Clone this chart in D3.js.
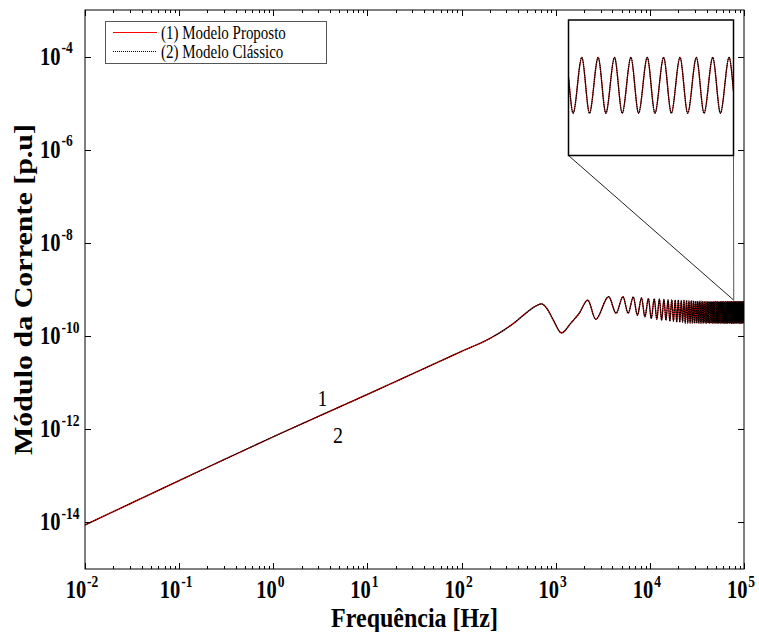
<!DOCTYPE html>
<html><head><meta charset="utf-8">
<script src="https://cdn.jsdelivr.net/npm/d3@7"></script>
<style>body{margin:0;background:#fff}</style>
</head><body><svg id="c" width="759" height="632"></svg>
<script>
// ---- data ----
const baseFreq = [0.01, 0.1, 1, 10, 100, 200, 355, 500, 600, 708, 800, 944, 1150, 1450, 1780];
const baseMag  = [8.8e-15, 7.9e-14, 6.9e-13, 5.6e-12, 4.7e-11, 8.9e-11, 1.86e-10, 3.3e-10, 4.3e-10, 4.9e-10, 4.0e-10, 2.2e-10, 1.17e-10, 1.9e-10, 3.1e-10];
const peakFreq = [2190, 3650, 5180, 6670, 8160, 9650, 11140, 12630, 14120, 15610, 17100, 18590, 20080, 21570, 23060, 24550, 26040, 27530, 29020, 30510, 32000, 33490, 34980, 36470, 37960, 39450, 40940, 42430, 43920, 45410, 46900, 48390, 49880, 51370, 52860, 54350, 55840, 57330, 58820, 60310, 61800, 63290, 64780, 66270, 67760, 69250, 70740, 72230, 73720, 75210, 76700, 78190, 79680, 81170, 82660, 84150, 85640, 87130, 88620, 90110, 91600, 93090, 94580, 96070, 97560, 99050];
const peakMag = [5.9e-10, 7.0e-10, 7.0e-10, 6.9e-10, 6.6e-10, 6.4e-10, 6.3e-10, 6.2e-10, 6.1e-10, 6.0e-10, 6.0e-10, 5.9e-10, 5.9e-10, 5.8e-10, 5.8e-10, 5.8e-10, 5.7e-10, 5.7e-10, 5.7e-10, 5.6e-10, 5.6e-10, 5.6e-10, 5.6e-10, 5.5e-10, 5.5e-10, 5.5e-10, 5.5e-10, 5.5e-10, 5.5e-10, 5.5e-10, 5.5e-10, 5.5e-10, 5.5e-10, 5.5e-10, 5.5e-10, 5.5e-10, 5.5e-10, 5.5e-10, 5.5e-10, 5.5e-10, 5.5e-10, 5.5e-10, 5.5e-10, 5.5e-10, 5.5e-10, 5.5e-10, 5.5e-10, 5.5e-10, 5.5e-10, 5.5e-10, 5.5e-10, 5.5e-10, 5.5e-10, 5.5e-10, 5.5e-10, 5.5e-10, 5.5e-10, 5.5e-10, 5.5e-10, 5.5e-10, 5.5e-10, 5.5e-10, 5.5e-10, 5.5e-10, 5.5e-10, 5.5e-10];
const troughFreq = [2660, 4380, 5880, 7370, 8860, 10350, 11840, 13330, 14820, 16310, 17800, 19290, 20780, 22270, 23760, 25250, 26740, 28230, 29720, 31210, 32700, 34190, 35680, 37170, 38660, 40150, 41640, 43130, 44620, 46110, 47600, 49090, 50580, 52070, 53560, 55050, 56540, 58030, 59520, 61010, 62500, 63990, 65480, 66970, 68460, 69950, 71440, 72930, 74420, 75910, 77400, 78890, 80380, 81870, 83360, 84850, 86340, 87830, 89320, 90810, 92300, 93790, 95280, 96770, 98260, 99750];
const troughMag = [2.3e-10, 3.1e-10, 3.1e-10, 2.8e-10, 2.6e-10, 2.4e-10, 2.3e-10, 2.2e-10, 2.2e-10, 2.1e-10, 2.1e-10, 2.0e-10, 2.0e-10, 2.0e-10, 1.9e-10, 1.9e-10, 1.9e-10, 1.9e-10, 1.9e-10, 1.9e-10, 1.9e-10, 1.9e-10, 1.9e-10, 1.9e-10, 1.9e-10, 1.9e-10, 1.9e-10, 1.9e-10, 1.9e-10, 1.9e-10, 1.9e-10, 1.9e-10, 1.9e-10, 1.9e-10, 1.9e-10, 1.9e-10, 1.9e-10, 1.9e-10, 1.9e-10, 1.9e-10, 1.9e-10, 1.9e-10, 1.9e-10, 1.9e-10, 1.9e-10, 1.9e-10, 1.9e-10, 1.9e-10, 1.9e-10, 1.9e-10, 1.9e-10, 1.9e-10, 1.9e-10, 1.9e-10, 1.9e-10, 1.9e-10, 1.9e-10, 1.9e-10, 1.9e-10, 1.9e-10, 1.9e-10, 1.9e-10, 1.9e-10, 1.9e-10, 1.9e-10, 1.9e-10];
const xTickExp = [-2, -1, 0, 1, 2, 3, 4, 5];
const yTickExp = [-14, -12, -10, -8, -6, -4];
const legendLabels = ["(1) Modelo Proposto", "(2) Modelo Clássico"];
const curveLabels = ["1", "2"];
const xTitle = "Frequência [Hz]";
const yTitle = "Módulo da Corrente [p.u]";
const xDomain = [1e-2, 1e5];
const yDomain = [1e-15, 1e-3];
const insetFreqDomain = [74000, 89020];
const insetMagDomain = [8.5e-11, 1.12e-9];
const zoomPoint = [77800, 5.9e-10];

// ---- build series ----
const series = baseFreq.map((f, i) => [f, baseMag[i]]);
peakFreq.forEach((f, i) => {
  series.push([f, peakMag[i]]);
  series.push([troughFreq[i], troughMag[i]]);
});
const model1 = series, model2 = series;

// ---- layout ----
const L = 85, R = 744, T = 10, B = 569;
const SY = 1.2;
const RED = "#ff0000";
const svg = d3.select("#c");
const x = d3.scaleLog().domain(xDomain).range([L, R]);
const y = d3.scaleLog().domain(yDomain).range([B, T]);

function stext(px, py, str, size, weight, anchor, rot, sy) {
  const g = svg.append("g").attr("transform", `translate(${px},${py}) scale(1,${sy || SY})` + (rot ? ` rotate(${rot})` : ""));
  return g.append("text").attr("font-family", "Liberation Serif, Times New Roman, serif")
    .attr("font-size", size).attr("font-weight", weight).attr("text-anchor", anchor).attr("fill", "#000").text(str);
}

svg.append("clipPath").attr("id", "pc").append("rect").attr("x", L).attr("y", T).attr("width", R - L).attr("height", B - T);

// curves: red solid, black dotted on top
const line = d3.line().x(d => x(d[0])).y(d => y(d[1])).curve(d3.curveMonotoneX);
const gp = svg.append("g").attr("clip-path", "url(#pc)");
gp.append("path").attr("d", line(model1)).attr("fill", "none").attr("stroke", RED).attr("stroke-width", 1.2);
gp.append("path").attr("d", line(model2)).attr("fill", "none").attr("stroke", "#000").attr("stroke-width", 1.3).attr("stroke-dasharray", "1.6,0.6");

// frame
svg.append("rect").attr("x", L).attr("y", T).attr("width", R - L).attr("height", B - T).attr("fill", "none").attr("stroke", "#000").attr("stroke-width", 1);

// ticks
const minor = [];
for (let e = -2; e < 5; e++) for (let m = 2; m <= 9; m++) minor.push(m * Math.pow(10, e));
const tk = svg.append("g").attr("stroke", "#000").attr("stroke-width", 1);
xTickExp.forEach(e => {
  const px = Math.round(x(Math.pow(10, e))) + 0.5;
  tk.append("line").attr("x1", px).attr("x2", px).attr("y1", B).attr("y2", B - 6);
  tk.append("line").attr("x1", px).attr("x2", px).attr("y1", T).attr("y2", T + 6);
});
minor.forEach(v => {
  const px = Math.round(x(v)) + 0.5;
  tk.append("line").attr("x1", px).attr("x2", px).attr("y1", B).attr("y2", B - 3);
  tk.append("line").attr("x1", px).attr("x2", px).attr("y1", T).attr("y2", T + 3);
});
yTickExp.forEach(e => {
  const py = Math.round(y(Math.pow(10, e))) + 0.5;
  tk.append("line").attr("x1", L).attr("x2", L + 6).attr("y1", py).attr("y2", py);
  tk.append("line").attr("x1", R).attr("x2", R - 6).attr("y1", py).attr("y2", py);
});

// tick labels
xTickExp.forEach(e => {
  const t = stext(x(Math.pow(10, e)) - 3, 598, "", 20.5, "bold", "middle");
  t.append("tspan").text("10");
  t.append("tspan").attr("font-size", 13.5).attr("dy", -9.5).attr("dx", 1).text(String(e));
});
yTickExp.forEach(e => {
  const t = stext(40, y(Math.pow(10, e)) + 8, "", 20.5, "bold", "start");
  t.append("tspan").text("10");
  t.append("tspan").attr("font-size", 13.5).attr("dy", -9.5).attr("dx", 1).text(String(e));
});

// titles
stext((L + R) / 2, 627, xTitle, 24, "bold", "middle", 0, 1.12);
stext(32, (T + B) / 2, yTitle, 25, "bold", "middle", -90);

// curve labels
stext(322.5, 406, curveLabels[0], 20, "normal", "middle");
stext(338, 443, curveLabels[1], 20, "normal", "middle");

// inset
const iL = 568.5, iR = 733.5, iT = 20, iB = 155.5;
const ix = d3.scaleLinear().domain(insetFreqDomain).range([iL, iR]);
const iy = d3.scaleLog().domain(insetMagDomain).range([iB, iT]);
const zp = [x(zoomPoint[0]), y(zoomPoint[1])];
svg.append("line").attr("x1", iL).attr("y1", iB).attr("x2", zp[0]).attr("y2", zp[1]).attr("stroke", "#222").attr("stroke-width", 1);
svg.append("line").attr("x1", iR).attr("y1", iB).attr("x2", zp[0]).attr("y2", zp[1]).attr("stroke", "#555").attr("stroke-width", 1);
svg.append("rect").attr("x", iL).attr("y", iT).attr("width", iR - iL).attr("height", iB - iT).attr("fill", "#fff");
svg.append("clipPath").attr("id", "ic").append("rect").attr("x", iL).attr("y", iT).attr("width", iR - iL).attr("height", iB - iT);
const iline = d3.line().x(d => ix(d[0])).y(d => iy(d[1])).curve(d3.curveMonotoneX);
const near = s => s.filter(d => d[0] > insetFreqDomain[0] - 3000 && d[0] < insetFreqDomain[1] + 3000);
const gi = svg.append("g").attr("clip-path", "url(#ic)");
gi.append("path").attr("d", iline(near(model1))).attr("fill", "none").attr("stroke", RED).attr("stroke-width", 1.2);
gi.append("path").attr("d", iline(near(model2))).attr("fill", "none").attr("stroke", "#000").attr("stroke-width", 1.3).attr("stroke-dasharray", "1.6,0.6");
svg.append("rect").attr("x", iL).attr("y", iT).attr("width", iR - iL).attr("height", iB - iT).attr("fill", "none").attr("stroke", "#000").attr("stroke-width", 1.5);

// legend
svg.append("rect").attr("x", 105.5).attr("y", 21.5).attr("width", 221).attr("height", 42).attr("fill", "#fff").attr("stroke", "#555").attr("stroke-width", 1);
svg.append("line").attr("x1", 113).attr("x2", 157).attr("y1", 32.5).attr("y2", 32.5).attr("stroke", RED).attr("stroke-width", 1.2);
svg.append("line").attr("x1", 113).attr("x2", 157).attr("y1", 51.5).attr("y2", 51.5).attr("stroke", "#000").attr("stroke-width", 1).attr("stroke-dasharray", "1,1");
stext(161, 39, legendLabels[0], 15, "normal", "start");
stext(161, 58, legendLabels[1], 15, "normal", "start");
</script></body></html>
